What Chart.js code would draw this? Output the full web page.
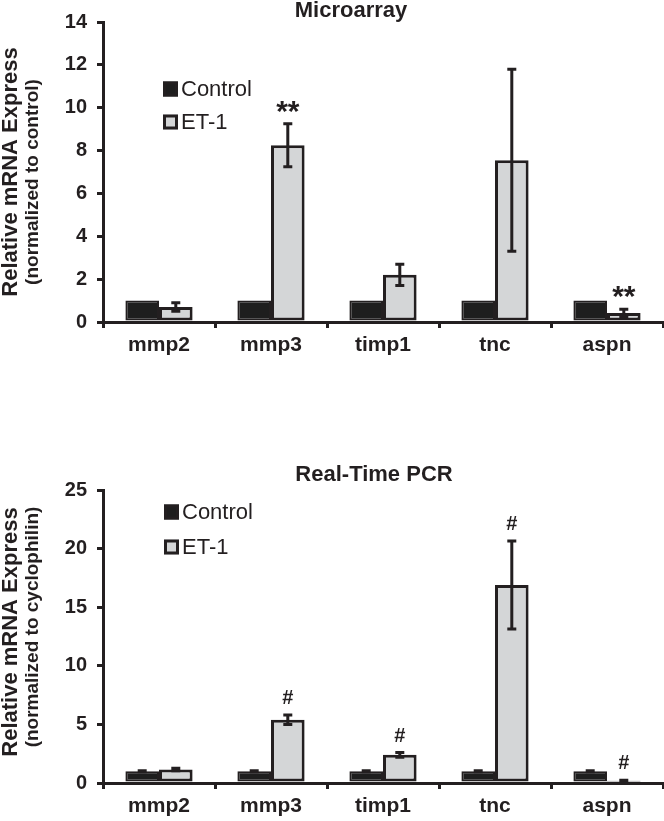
<!DOCTYPE html>
<html>
<head>
<meta charset="utf-8">
<script src="https://cdn.jsdelivr.net/npm/chart.js@4.4.0/dist/chart.umd.min.js"></script>
<style>
  html, body { margin: 0; padding: 0; background: #fff; }
  body { width: 664px; height: 821px; position: relative; overflow: hidden; }
  canvas { position: absolute; left: 0; }
  #microChart { top: 0; }
  #pcrChart { top: 440px; }
</style>
</head>
<body>
<canvas id="microChart" width="664" height="370"></canvas>
<canvas id="pcrChart" width="664" height="381"></canvas>
<script>
const genes = ["mmp2", "mmp3", "timp1", "tnc", "aspn"];

// Microarray, normalized to control
const microControl = [1, 1, 1, 1, 1];
const microControlErr = [0, 0, 0, 0, 0];
const microET1 = [0.7, 8.25, 2.2, 7.55, 0.42];
const microET1Err = [0.2, 1.0, 0.5, 4.25, 0.17];
const microMarks = ["", "**", "", "", "**"];
const microYMax = 14;
const microYStep = 2;

// Real-Time PCR, normalized to cyclophilin
const pcrControl = [1, 1, 1, 1, 1];
const pcrControlErr = [0.05, 0.05, 0.05, 0.05, 0.05];
const pcrET1 = [1.15, 5.4, 2.4, 16.9, 0.2];
const pcrET1Err = [0.1, 0.4, 0.2, 3.75, 0.03];
const pcrMarks = ["", "#", "#", "#", "#"];
const pcrYMax = 25;
const pcrYStep = 5;

const INK = "#231f20";
const GREY = "#d4d6d7";
const FONT = "'Liberation Sans', Arial, Helvetica, sans-serif";

// error bars, significance marks, legend, titles
const extras = {
  id: "extras",
  afterDatasetsDraw(chart, args, opts) {
    const ctx = chart.ctx;
    const ys = chart.scales.y;
    const area = chart.chartArea;
    ctx.save();
    ctx.strokeStyle = INK;
    ctx.fillStyle = INK;

    chart.data.datasets.forEach((ds, di) => {
      const meta = chart.getDatasetMeta(di);
      meta.data.forEach((bar, i) => {
        const v = ds.data[i];
        const e = ds.errors[i];
        const top = ys.getPixelForValue(v + e);
        if (e > 0) {
          const bot = ys.getPixelForValue(Math.max(v - e, 0));
          ctx.lineWidth = 3;
          ctx.beginPath();
          ctx.moveTo(bar.x, top); ctx.lineTo(bar.x, bot);
          ctx.moveTo(bar.x - 4.5, top); ctx.lineTo(bar.x + 4.5, top);
          ctx.moveTo(bar.x - 4.5, bot); ctx.lineTo(bar.x + 4.5, bot);
          ctx.stroke();
        }
        if (ds.marks && ds.marks[i]) {
          ctx.font = opts.markFont;
          ctx.textAlign = "center";
          ctx.textBaseline = "alphabetic";
          ctx.fillText(ds.marks[i], bar.x, top - opts.markGap);
        }
      });
    });

    // legend
    chart.data.datasets.forEach((ds, di) => {
      const bx = area.left + opts.legendX;
      const cy = area.top + opts.legendY + di * opts.legendGap;
      ctx.fillStyle = ds.backgroundColor;
      ctx.fillRect(bx, cy - 7.5, 15, 15);
      ctx.lineWidth = 3;
      ctx.strokeStyle = INK;
      ctx.strokeRect(bx + 1.5, cy - 6, 12, 12);
      ctx.fillStyle = INK;
      ctx.font = "22px " + FONT;
      ctx.textAlign = "left";
      ctx.textBaseline = "middle";
      ctx.fillText(ds.label, bx + 18, cy + 1);
    });

    // chart title
    ctx.font = "bold 22px " + FONT;
    ctx.textAlign = "center";
    ctx.textBaseline = "alphabetic";
    ctx.fillText(opts.title, opts.titleX, opts.titleY);

    // y axis title, two lines
    opts.yTitle.forEach(line => {
      ctx.save();
      ctx.translate(line.x, line.y);
      ctx.rotate(-Math.PI / 2);
      ctx.font = line.font;
      ctx.textAlign = "center";
      ctx.textBaseline = "middle";
      ctx.fillText(line.text, 0, 0);
      ctx.restore();
    });
    ctx.restore();
  }
};

function makeChart(id, control, controlErr, et1, et1Err, marks, ymax, ystep, padTop, xHeight, extraOpts) {
  return new Chart(document.getElementById(id), {
    type: "bar",
    data: {
      labels: genes,
      datasets: [
        {
          label: "Control",
          data: control,
          errors: controlErr,
          backgroundColor: "#1e1e1e",
          borderColor: INK,
          borderWidth: 2,
          borderSkipped: false,
          categoryPercentage: 0.6,
          barPercentage: 1.0,
        },
        {
          label: "ET-1",
          data: et1,
          errors: et1Err,
          marks: marks,
          backgroundColor: GREY,
          borderColor: INK,
          borderWidth: 3,
          borderSkipped: false,
          categoryPercentage: 0.6,
          barPercentage: 1.0,
        },
      ],
    },
    options: {
      responsive: false,
      animation: false,
      layout: { padding: { top: padTop, right: 1, left: 0, bottom: 0 } },
      scales: {
        x: {
          ticks: { color: INK, font: { family: FONT, size: 21, weight: "bold" }, padding: 5 },
          grid: { offset: true, drawOnChartArea: false, tickLength: 6, color: INK, lineWidth: 3 },
          border: { display: true, color: INK, width: 3 },
          afterFit(scale) { scale.height = xHeight; },
        },
        y: {
          min: 0,
          max: ymax,
          ticks: { stepSize: ystep, color: INK, font: { family: FONT, size: 20, weight: "bold" }, padding: 10 },
          grid: { drawOnChartArea: false, tickLength: 6, color: INK, lineWidth: 3 },
          border: { display: true, color: INK, width: 3 },
          afterFit(scale) { scale.width = 103; },
        },
      },
      plugins: {
        legend: { display: false },
        tooltip: { enabled: false },
        extras: extraOpts,
      },
    },
    plugins: [extras],
  });
}

makeChart("microChart", microControl, microControlErr, microET1, microET1Err, microMarks,
  microYMax, microYStep, 22, 48, {
    title: "Microarray", titleX: 351, titleY: 17,
    legendX: 60, legendY: 67, legendGap: 33,
    markFont: "bold 30px " + FONT, markGap: 3,
    yTitle: [
      { text: "Relative mRNA Express", x: 11, y: 172, font: "bold 22px " + FONT },
      { text: "(normalized to control)", x: 33, y: 182, font: "bold 19px " + FONT },
    ],
  });

makeChart("pcrChart", pcrControl, pcrControlErr, pcrET1, pcrET1Err, pcrMarks,
  pcrYMax, pcrYStep, 50, 38, {
    title: "Real-Time PCR", titleX: 374, titleY: 41,
    legendX: 61, legendY: 22, legendGap: 35,
    markFont: "bold 20px " + FONT, markGap: 11,
    yTitle: [
      { text: "Relative mRNA Express", x: 11, y: 192, font: "bold 22px " + FONT },
      { text: "(normalized to cyclophilin)", x: 33, y: 187, font: "bold 19px " + FONT },
    ],
  });
</script>
</body>
</html>
